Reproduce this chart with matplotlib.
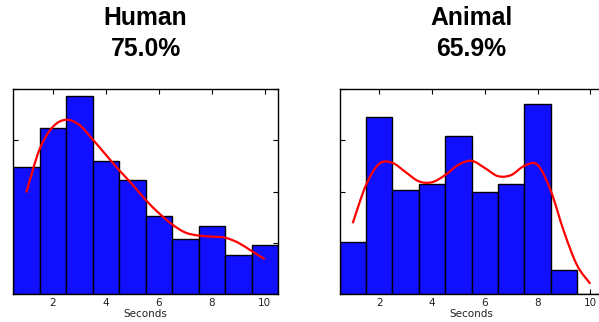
import numpy as np
import matplotlib
matplotlib.use("Agg")
import matplotlib.pyplot as plt
from matplotlib.path import Path
from matplotlib.patches import PathPatch

# Histogram bins (centres, seconds) and normalised heights
bin_centers = [1, 2, 3, 4, 5, 6, 7, 8, 9, 10]
human_heights = [0.124, 0.162, 0.193, 0.130, 0.111, 0.076, 0.054, 0.066, 0.038, 0.048]
animal_heights = [0.051, 0.173, 0.101, 0.107, 0.154, 0.100, 0.107, 0.185, 0.023, 0.0]

# Density curves sampled every half second
curve_x = [1.0, 1.5, 2.0, 2.5, 3.0, 3.5, 4.0, 4.5, 5.0, 5.5,
           6.0, 6.5, 7.0, 7.5, 8.0, 8.5, 9.0, 9.5, 10.0]
human_curve = [0.099, 0.141, 0.163, 0.170, 0.165, 0.151, 0.136, 0.121, 0.107, 0.092,
               0.079, 0.068, 0.060, 0.057, 0.056, 0.055, 0.050, 0.042, 0.034]
animal_curve = [0.069, 0.106, 0.127, 0.128, 0.119, 0.110, 0.109, 0.116, 0.126, 0.130,
                0.123, 0.115, 0.116, 0.125, 0.126, 0.101, 0.061, 0.028, 0.010]

titles = ["Human\n75.0%", "Animal\n65.9%"]
x_ticks = [2, 4, 6, 8, 10]
y_ticks = [0.0, 0.05, 0.10, 0.15, 0.20]


def smooth_path(xs, ys):
    """Catmull-Rom spline through the points, as cubic Bezier segments."""
    pts = np.column_stack([xs, ys]).astype(float)
    verts = [pts[0]]
    codes = [Path.MOVETO]
    n = len(pts)
    for i in range(n - 1):
        p0 = pts[i - 1] if i > 0 else pts[i]
        p1 = pts[i]
        p2 = pts[i + 1]
        p3 = pts[i + 2] if i + 2 < n else pts[i + 1]
        verts += [p1 + (p2 - p0) / 6.0, p2 - (p3 - p1) / 6.0, p2]
        codes += [Path.CURVE4] * 3
    return Path(verts, codes)


fig = plt.figure(figsize=(5.99, 3.22), dpi=100)
W, H = 599.0, 322.0

axes_boxes = [
    (13 / W, 28 / H, 265 / W, 205 / H),
    (339.5 / W, 28 / H, 264 / W, 205 / H),
]

for box, heights, curve, title in zip(
        axes_boxes, [human_heights, animal_heights],
        [human_curve, animal_curve], titles):
    ax = fig.add_axes(box)
    ax.bar(bin_centers, heights, width=1.0, color="#1010ff",
           edgecolor="black", linewidth=1.0, zorder=2)
    ax.add_patch(PathPatch(smooth_path(curve_x, curve), fill=False,
                           edgecolor="red", linewidth=1.6, zorder=3))
    ax.set_xlim(0.5, 10.5)
    ax.set_ylim(0, 0.2)
    ax.set_xticks(x_ticks)
    ax.set_yticks(y_ticks)
    ax.set_yticklabels([])
    ax.tick_params(direction="in", length=3.5, width=0.8,
                   top=True, right=True, labelsize=7.5, pad=3,
                   colors="black", labelcolor="#222222")
    for s in ax.spines.values():
        s.set_linewidth(1.0)
        s.set_color("black")
    ax.set_xlabel("Seconds", fontsize=7.5, labelpad=0.5, color="#222222")
    # centred title above each panel
    cx = box[0] + box[2] / 2
    fig.text(cx, 1 - 6 / H, title, ha="center", va="top",
             fontsize=17.8, fontweight="bold", family="Liberation Sans",
             linespacing=1.35)

fig.savefig("out.png", dpi=100)
